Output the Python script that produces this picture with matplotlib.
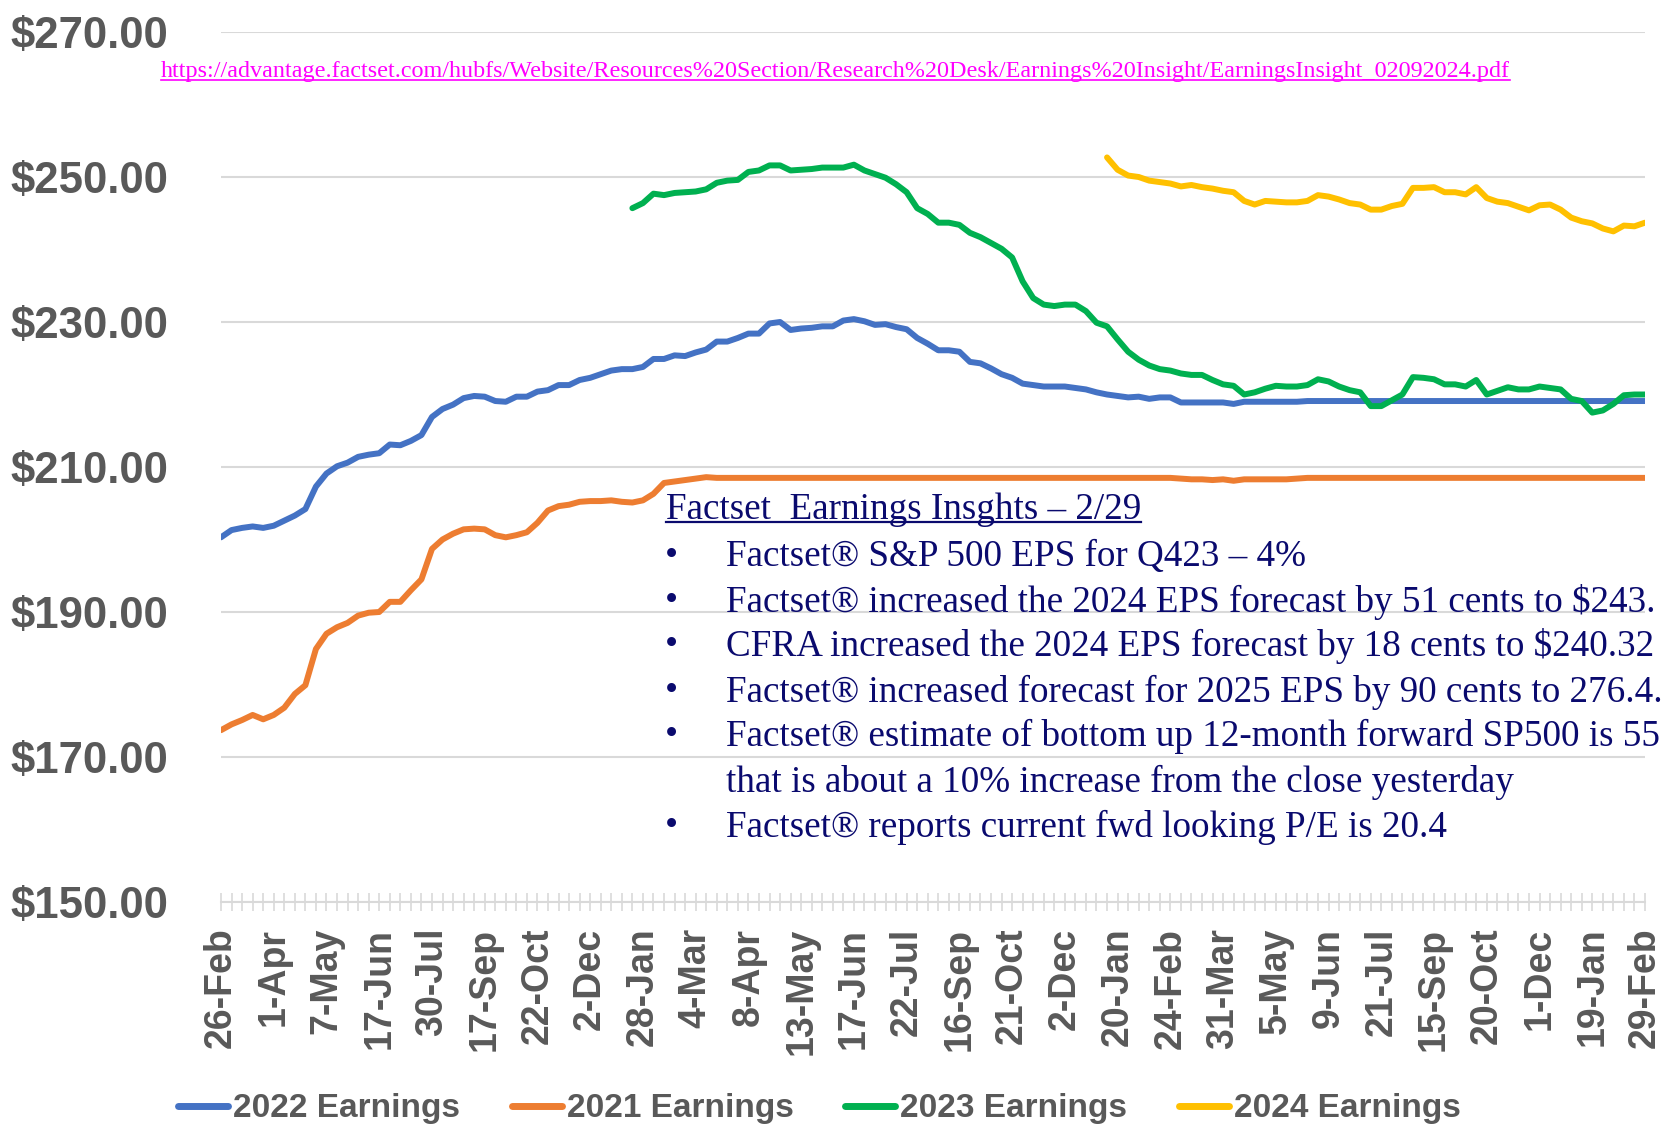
import numpy as np
import matplotlib.pyplot as plt
from matplotlib.lines import Line2D

# ── Data (weekly estimates) ──────────────────────────────────────────────────
nan = np.nan

date_labels = ['26-Feb', '1-Apr', '7-May', '17-Jun', '30-Jul', '17-Sep', '22-Oct',
               '2-Dec', '28-Jan', '4-Mar', '8-Apr', '13-May', '17-Jun', '22-Jul',
               '16-Sep', '21-Oct', '2-Dec', '20-Jan', '24-Feb', '31-Mar', '5-May',
               '9-Jun', '21-Jul', '15-Sep', '20-Oct', '1-Dec', '19-Jan', '29-Feb']

earn_2022 = [
    200.3, 201.3, 201.6, 201.8, 201.6, 201.9, 202.6, 203.3, 204.2, 207.3,
    209.1, 210.1, 210.6, 211.4, 211.7, 211.9, 213.1, 213.0, 213.6, 214.4,
    216.9, 218.0, 218.6, 219.5, 219.8, 219.7, 219.1, 219.0, 219.7, 219.7,
    220.4, 220.6, 221.3, 221.3, 222.0, 222.3, 222.8, 223.3, 223.5, 223.5,
    223.8, 224.9, 224.9, 225.4, 225.3, 225.8, 226.2, 227.3, 227.3, 227.8,
    228.4, 228.4, 229.8, 230.0, 228.9, 229.1, 229.2, 229.4, 229.4, 230.2,
    230.4, 230.1, 229.6, 229.7, 229.3, 229.0, 227.8, 227.0, 226.1, 226.1,
    225.9, 224.5, 224.3, 223.6, 222.8, 222.3, 221.5, 221.3, 221.1, 221.1,
    221.1, 220.9, 220.7, 220.3, 220.0, 219.8, 219.6, 219.7, 219.4, 219.6,
    219.6, 218.9, 218.9, 218.9, 218.9, 218.9, 218.7, 219.0, 219.0, 219.0,
    219.0, 219.0, 219.0, 219.1, 219.1, 219.1, 219.1, 219.1, 219.1, 219.1,
    219.1, 219.1, 219.1, 219.1, 219.1, 219.1, 219.1, 219.1, 219.1, 219.1,
    219.1, 219.1, 219.1, 219.1, 219.1, 219.1, 219.1, 219.1, 219.1, 219.1,
    219.1, 219.1, 219.1, 219.1, 219.1, 219.1,
]

earn_2021 = [
    173.7, 174.5, 175.1, 175.8, 175.2, 175.8, 176.8, 178.7, 179.9, 184.9,
    187.0, 187.9, 188.5, 189.5, 189.9, 190.0, 191.4, 191.4, 193.0, 194.5,
    198.7, 200.0, 200.8, 201.4, 201.5, 201.4, 200.6, 200.3, 200.6, 201.0,
    202.3, 204.0, 204.6, 204.8, 205.2, 205.3, 205.3, 205.4, 205.2, 205.1,
    205.4, 206.3, 207.8, 208.0, 208.2, 208.4, 208.6, 208.5, 208.5, 208.5,
    208.5, 208.5, 208.5, 208.5, 208.5, 208.5, 208.5, 208.5, 208.5, 208.5,
    208.5, 208.5, 208.5, 208.5, 208.5, 208.5, 208.5, 208.5, 208.5, 208.5,
    208.5, 208.5, 208.5, 208.5, 208.5, 208.5, 208.5, 208.5, 208.5, 208.5,
    208.5, 208.5, 208.5, 208.5, 208.5, 208.5, 208.5, 208.5, 208.5, 208.5,
    208.5, 208.4, 208.3, 208.3, 208.2, 208.3, 208.1, 208.3, 208.3, 208.3,
    208.3, 208.3, 208.4, 208.5, 208.5, 208.5, 208.5, 208.5, 208.5, 208.5,
    208.5, 208.5, 208.5, 208.5, 208.5, 208.5, 208.5, 208.5, 208.5, 208.5,
    208.5, 208.5, 208.5, 208.5, 208.5, 208.5, 208.5, 208.5, 208.5, 208.5,
    208.5, 208.5, 208.5, 208.5, 208.5, 208.5,
]

earn_2023 = [nan] * 39 + [
    245.7, 246.4, 247.7, 247.5, 247.8, 247.9, 248.0, 248.3, 249.2, 249.5,
    249.6, 250.7, 250.9, 251.6, 251.6, 250.9, 251.0, 251.1, 251.3, 251.3,
    251.3, 251.7, 250.9, 250.4, 249.9, 249.0, 247.9, 245.7, 244.9, 243.7,
    243.7, 243.4, 242.3, 241.7, 240.9, 240.1, 238.9, 235.6, 233.3, 232.4,
    232.2, 232.4, 232.4, 231.5, 229.9, 229.4, 227.6, 225.9, 224.8, 224.0,
    223.5, 223.3, 222.9,
    222.7, 222.7, 222.0, 221.4, 221.2, 220.0, 220.3, 220.8, 221.2, 221.1,
    221.1, 221.3, 222.1, 221.8, 221.1, 220.6, 220.3, 218.4, 218.4, 219.2,
    220.0, 222.4, 222.3, 222.1, 221.4, 221.4, 221.1, 222.0, 220.0, 220.5,
    221.0, 220.7, 220.7, 221.1, 220.9, 220.7, 219.4, 219.1, 217.5, 217.8,
    218.7, 219.9, 220.0, 220.0,
]

earn_2024 = [nan] * 84 + [
    252.7, 251.0, 250.2, 250.0, 249.5, 249.3, 249.1, 248.7, 248.9, 248.6,
    248.4, 248.1, 247.9, 246.7, 246.2, 246.7, 246.6, 246.5, 246.5, 246.7,
    247.5, 247.3, 246.9, 246.4, 246.2, 245.5, 245.5, 246.0, 246.3, 248.5,
    248.5, 248.6, 247.9, 247.9, 247.6, 248.6, 247.1, 246.6, 246.4, 245.9,
    245.4, 246.1, 246.2, 245.5, 244.4, 243.9, 243.6, 242.9, 242.5, 243.3,
    243.2, 243.7,
]

url = ("https://advantage.factset.com/hubfs/Website/Resources%20Section/"
       "Research%20Desk/Earnings%20Insight/EarningsInsight_02092024.pdf")
box_title = "Factset  Earnings Insghts \u2013 2/29"
box_lines = [
    "Factset\u00ae S&P 500 EPS for Q423 \u2013 4%",
    "Factset\u00ae increased the 2024 EPS forecast by 51 cents to $243.",
    "CFRA increased the 2024 EPS forecast by 18 cents to $240.32",
    "Factset\u00ae increased forecast for 2025 EPS by 90 cents to 276.4.",
    "Factset\u00ae estimate of bottom up 12-month forward SP500 is 55",
    "that is about a 10% increase from the close yesterday",
    "Factset\u00ae reports current fwd looking P/E is 20.4",
]
box_bullet = [True, True, True, True, True, False, True]

# ── Figure ───────────────────────────────────────────────────────────────────
W, H = 1662, 1127
fig = plt.figure(figsize=(W / 100, H / 100), dpi=100)
ax = fig.add_axes([221 / W, 1 - 902 / H, (1645 - 221) / W, (902 - 32) / H])

GREY = '#595959'
x = np.arange(len(earn_2022))
series = [(earn_2022, '#4472C4', '2022 Earnings'),
          (earn_2021, '#ED7D31', '2021 Earnings'),
          (earn_2023, '#00B050', '2023 Earnings'),
          (earn_2024, '#FFC000', '2024 Earnings')]
for vals, col, lab in series:
    ax.plot(x, vals, color=col, lw=4.3, label=lab, solid_capstyle='round',
            solid_joinstyle='round', zorder=3)

ax.set_xlim(0, len(x) - 1)
ax.set_ylim(150, 270)
ax.set_yticks(np.arange(150, 271, 20))
ax.set_yticklabels([f'${v:.2f}' for v in range(150, 271, 20)])
ax.grid(axis='y', color='#d9d9d9', lw=1.5, zorder=0)
for s in ['top', 'right', 'left']:
    ax.spines[s].set_visible(False)
ax.spines['bottom'].set_color('#d9d9d9')
ax.spines['bottom'].set_linewidth(1.5)

ax.set_xticks(x)
ax.set_xticklabels([date_labels[i // 5] if i % 5 == 0 else '' for i in x],
                   rotation=90, fontsize=27, fontweight='bold', color=GREY,
                   family='Liberation Sans')
ax.tick_params(axis='x', direction='inout', length=13, width=1.2,
               color='#d9d9d9', pad=12)
ax.tick_params(axis='y', length=0, pad=38)
for t in ax.get_yticklabels():
    t.set_fontsize(31.5)
    t.set_fontweight('bold')
    t.set_color(GREY)
    t.set_family('Liberation Sans')

leg = fig.legend(loc='center', bbox_to_anchor=(0.493, 1 - 1109 / H), ncol=4,
                 frameon=False, handlelength=1.5, handletextpad=0.15,
                 columnspacing=1.55,
                 prop={'family': 'Liberation Sans', 'weight': 'bold', 'size': 24})
for t in leg.get_texts():
    t.set_color(GREY)
for h in leg.get_lines():
    h.set_linewidth(5)

# ── Annotations ──────────────────────────────────────────────────────────────
def underline(txt, color, lw, off):
    fig.canvas.draw()
    bb = txt.get_window_extent().transformed(fig.transFigure.inverted())
    y = bb.y0 + off / H
    fig.add_artist(Line2D([bb.x0, bb.x1], [y, y], transform=fig.transFigure,
                          color=color, lw=lw))

t_url = fig.text(161 / W, 1 - 72 / H, url, color='#FF00FF', fontsize=17.4,
                 family='Liberation Serif', va='center', ha='left')
underline(t_url, '#FF00FF', 1.2, 3)

NAVY = '#0A0A6E'
t_title = fig.text(666 / W, 1 - 510 / H, box_title, color=NAVY, fontsize=26.7,
                   family='Liberation Serif', va='center', ha='left')
underline(t_title, NAVY, 1.6, 5)

line_y = [557, 602, 646, 692, 736, 782, 827]
for yy, txt, bul in zip(line_y, box_lines, box_bullet):
    if bul:
        fig.text(671 / W, 1 - yy / H, '\u2022', color=NAVY, fontsize=26.7,
                 family='Liberation Serif', va='center', ha='center')
    fig.text(726 / W, 1 - yy / H, txt, color=NAVY, fontsize=26.7,
             family='Liberation Serif', va='center', ha='left')

fig.savefig('out.png', dpi=100)
